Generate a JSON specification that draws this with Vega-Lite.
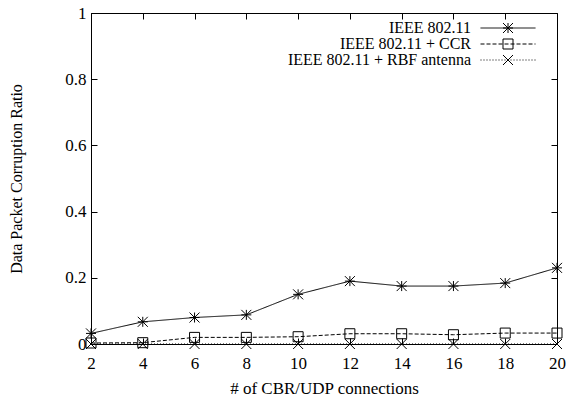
{
  "$schema": "https://vega.github.io/schema/vega-lite/v6.json",
  "width": 466,
  "height": 331,
  "autosize": {"type": "none"},
  "padding": {"left": 91, "top": 13, "right": 10, "bottom": 57},
  "background": "white",
  "config": {
    "view": {"stroke": "black", "strokeWidth": 1},
    "font": "Liberation Serif",
    "axis": {
      "domainColor": "black",
      "tickColor": "black",
      "labelColor": "black",
      "titleColor": "black",
      "labelFont": "Liberation Serif",
      "titleFont": "Liberation Serif",
      "labelFontSize": 17,
      "titleFontSize": 17,
      "titleFontWeight": "normal",
      "grid": false
    },
    "legend": {
      "labelFont": "Liberation Serif",
      "labelFontSize": 16,
      "labelColor": "black"
    }
  },
  "data": {
    "values": [
      {"conn": 2, "ratio": 0.032, "series": "IEEE 802.11"},
      {"conn": 4, "ratio": 0.067, "series": "IEEE 802.11"},
      {"conn": 6, "ratio": 0.08, "series": "IEEE 802.11"},
      {"conn": 8, "ratio": 0.088, "series": "IEEE 802.11"},
      {"conn": 10, "ratio": 0.15, "series": "IEEE 802.11"},
      {"conn": 12, "ratio": 0.19, "series": "IEEE 802.11"},
      {"conn": 14, "ratio": 0.175, "series": "IEEE 802.11"},
      {"conn": 16, "ratio": 0.175, "series": "IEEE 802.11"},
      {"conn": 18, "ratio": 0.184, "series": "IEEE 802.11"},
      {"conn": 20, "ratio": 0.23, "series": "IEEE 802.11"},
      {"conn": 2, "ratio": 0.003, "series": "IEEE 802.11 + CCR"},
      {"conn": 4, "ratio": 0.004, "series": "IEEE 802.11 + CCR"},
      {"conn": 6, "ratio": 0.02, "series": "IEEE 802.11 + CCR"},
      {"conn": 8, "ratio": 0.02, "series": "IEEE 802.11 + CCR"},
      {"conn": 10, "ratio": 0.022, "series": "IEEE 802.11 + CCR"},
      {"conn": 12, "ratio": 0.031, "series": "IEEE 802.11 + CCR"},
      {"conn": 14, "ratio": 0.031, "series": "IEEE 802.11 + CCR"},
      {"conn": 16, "ratio": 0.028, "series": "IEEE 802.11 + CCR"},
      {"conn": 18, "ratio": 0.033, "series": "IEEE 802.11 + CCR"},
      {"conn": 20, "ratio": 0.033, "series": "IEEE 802.11 + CCR"},
      {"conn": 2, "ratio": 0.0, "series": "IEEE 802.11 + RBF antenna"},
      {"conn": 4, "ratio": 0.0, "series": "IEEE 802.11 + RBF antenna"},
      {"conn": 6, "ratio": 0.0, "series": "IEEE 802.11 + RBF antenna"},
      {"conn": 8, "ratio": 0.0, "series": "IEEE 802.11 + RBF antenna"},
      {"conn": 10, "ratio": 0.0, "series": "IEEE 802.11 + RBF antenna"},
      {"conn": 12, "ratio": 0.0, "series": "IEEE 802.11 + RBF antenna"},
      {"conn": 14, "ratio": 0.0, "series": "IEEE 802.11 + RBF antenna"},
      {"conn": 16, "ratio": 0.0, "series": "IEEE 802.11 + RBF antenna"},
      {"conn": 18, "ratio": 0.0, "series": "IEEE 802.11 + RBF antenna"},
      {"conn": 20, "ratio": 0.0, "series": "IEEE 802.11 + RBF antenna"}
    ]
  },
  "resolve": {"axis": {"x": "independent", "y": "independent"}},
  "layer": [
    {
      "mark": {"type": "line", "color": "black", "strokeWidth": 1},
      "encoding": {
        "x": {
          "field": "conn", "type": "quantitative",
          "scale": {"domain": [2, 20], "nice": false, "zero": false},
          "axis": {"title": "# of CBR/UDP connections", "orient": "bottom", "values": [2,4,6,8,10,12,14,16,18,20], "tickSize": -6, "labelPadding": 17, "labelFlush": false, "titlePadding": 9}
        },
        "y": {
          "field": "ratio", "type": "quantitative",
          "scale": {"domain": [0, 1], "nice": false},
          "axis": {"title": "Data Packet Corruption Ratio", "titleFontSize": 16, "orient": "left", "values": [0,0.2,0.4,0.6,0.8,1], "format": "~g", "tickSize": -6, "labelPadding": 11, "labelFlush": false, "titlePadding": 40}
        },
        "strokeDash": {
          "field": "series", "type": "nominal",
          "scale": {"range": [[1, 0], [4, 2], [1, 2]]},
          "legend": {
            "title": null, "orient": "none", "legendX": 409, "legendY": 7,
            "padding": 0, "rowPadding": -2,
            "symbolType": "M-5.5,0H5.5", "symbolSize": 100, "symbolStrokeColor": "black", "symbolStrokeWidth": 1,
            "labelAlign": "right", "labelOffset": -45, "labelLimit": 400
          }
        }
      }
    },
    {
      "mark": {"type": "point", "filled": false, "color": "black", "strokeWidth": 1, "size": 100, "opacity": 1},
      "encoding": {
        "x": {
          "field": "conn", "type": "quantitative",
          "axis": {"title": null, "orient": "top", "values": [2,4,6,8,10,12,14,16,18,20], "tickSize": -6, "labels": false, "domain": false}
        },
        "y": {
          "field": "ratio", "type": "quantitative",
          "axis": {"title": null, "orient": "right", "values": [0,0.2,0.4,0.6,0.8,1], "tickSize": -6, "labels": false, "domain": false}
        },
        "shape": {
          "field": "series", "type": "nominal",
          "scale": {
            "domain": ["IEEE 802.11", "IEEE 802.11 + CCR", "IEEE 802.11 + RBF antenna"],
            "range": ["M-1,0H1M0,-1V1M-1,-1L1,1M-1,1L1,-1", "square", "M-1,-1L1,1M-1,1L1,-1"]
          },
          "legend": {
            "title": null, "orient": "none", "legendX": 409, "legendY": 7,
            "padding": 0, "rowPadding": -2,
            "symbolSize": 100, "symbolStrokeColor": "black", "symbolFillColor": "white", "symbolStrokeWidth": 1,
            "labelAlign": "right", "labelOffset": -45, "labelExpr": "' '"
          }
        }
      }
    }
  ]
}
